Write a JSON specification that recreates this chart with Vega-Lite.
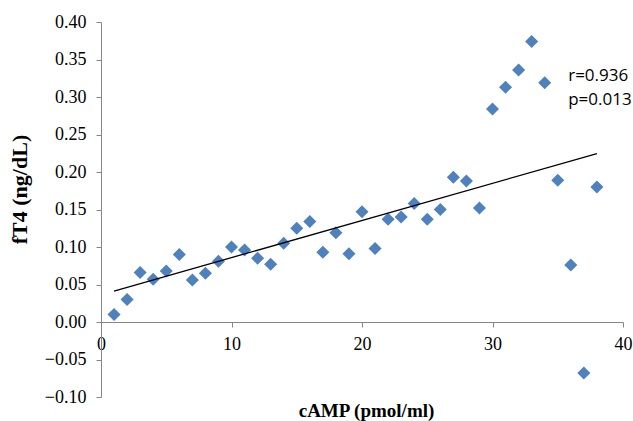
{
  "$schema": "https://vega.github.io/schema/vega-lite/v6.json",
  "width": 522,
  "height": 375,
  "autosize": {"type": "none"},
  "padding": {"left": 101, "top": 22, "right": 10, "bottom": 24},
  "background": "white",
  "config": {
    "view": {"stroke": null},
    "axis": {"labelOverlap": false, "labelFlush": false, "grid": false},
    "axisY": {"labelOverlap": false},
    "axisQuantitative": {"labelOverlap": false}
  },
  "datasets": {
    "points": [
      {"cAMP": 1, "fT4": 0.010},
      {"cAMP": 2, "fT4": 0.030},
      {"cAMP": 3, "fT4": 0.066},
      {"cAMP": 4, "fT4": 0.057},
      {"cAMP": 5, "fT4": 0.068},
      {"cAMP": 6, "fT4": 0.090},
      {"cAMP": 7, "fT4": 0.056},
      {"cAMP": 8, "fT4": 0.065},
      {"cAMP": 9, "fT4": 0.081},
      {"cAMP": 10, "fT4": 0.100},
      {"cAMP": 11, "fT4": 0.096},
      {"cAMP": 12, "fT4": 0.085},
      {"cAMP": 13, "fT4": 0.077},
      {"cAMP": 14, "fT4": 0.105},
      {"cAMP": 15, "fT4": 0.125},
      {"cAMP": 16, "fT4": 0.134},
      {"cAMP": 17, "fT4": 0.093},
      {"cAMP": 18, "fT4": 0.119},
      {"cAMP": 19, "fT4": 0.091},
      {"cAMP": 20, "fT4": 0.147},
      {"cAMP": 21, "fT4": 0.098},
      {"cAMP": 22, "fT4": 0.137},
      {"cAMP": 23, "fT4": 0.140},
      {"cAMP": 24, "fT4": 0.158},
      {"cAMP": 25, "fT4": 0.137},
      {"cAMP": 26, "fT4": 0.150},
      {"cAMP": 27, "fT4": 0.193},
      {"cAMP": 28, "fT4": 0.188},
      {"cAMP": 29, "fT4": 0.152},
      {"cAMP": 30, "fT4": 0.284},
      {"cAMP": 31, "fT4": 0.313},
      {"cAMP": 32, "fT4": 0.336},
      {"cAMP": 33, "fT4": 0.374},
      {"cAMP": 34, "fT4": 0.319},
      {"cAMP": 35, "fT4": 0.189},
      {"cAMP": 36, "fT4": 0.076},
      {"cAMP": 37, "fT4": -0.068},
      {"cAMP": 38, "fT4": 0.180}
    ],
    "fit": [
      {"cAMP": 1, "fT4": 0.0413},
      {"cAMP": 38, "fT4": 0.2245}
    ],
    "notes": [
      {"cAMP": 35.8, "fT4": 0.3276, "label": "r=0.936"},
      {"cAMP": 35.8, "fT4": 0.2956, "label": "p=0.013"}
    ]
  },
  "encoding": {
    "x": {
      "field": "cAMP", "type": "quantitative",
      "scale": {"domain": [0, 40], "nice": false, "zero": false},
      "axis": {
        "title": "cAMP (pmol/ml)",
        "values": [0, 10, 20, 30, 40],
        "offset": -75,
        "grid": false,
        "domainColor": "#868686",
        "tickColor": "#868686",
        "tickSize": 5,
        "labelFont": "Liberation Serif",
        "labelFontSize": 18,
        "labelColor": "black",
        "labelPadding": 8,
        "labelFlush": false,
        "labelOverlap": false,
        "titleFont": "Liberation Serif",
        "titleFontSize": 19,
        "titleFontWeight": "bold",
        "titleColor": "black",
        "titlePadding": 48,
        "titleX": 265
      }
    },
    "y": {
      "field": "fT4", "type": "quantitative",
      "scale": {"domain": [-0.1, 0.4], "nice": false, "zero": false},
      "axis": {
        "title": "fT4 (ng/dL)",
        "values": [-0.1, -0.05, 0, 0.05, 0.1, 0.15, 0.2, 0.25, 0.3, 0.35, 0.4],
        "format": ".2f",
        "grid": false,
        "domainColor": "#868686",
        "tickColor": "#868686",
        "tickSize": 5,
        "labelFont": "Liberation Serif",
        "labelFontSize": 18,
        "labelColor": "black",
        "labelPadding": 10,
        "labelFlush": false,
        "labelOverlap": false,
        "titleFont": "Liberation Serif",
        "titleFontSize": 22,
        "titleFontWeight": "bold",
        "titleColor": "black",
        "titleX": -70,
        "titleY": 167
      }
    }
  },
  "layer": [
    {
      "data": {"name": "points"},
      "mark": {"type": "point", "shape": "diamond", "filled": true, "color": "#4F81BD", "opacity": 1, "size": 170}
    },
    {
      "data": {"name": "fit"},
      "mark": {"type": "line", "color": "black", "strokeWidth": 1.3},
      "encoding": {}
    },
    {
      "data": {"name": "notes"},
      "mark": {"type": "text", "align": "left", "baseline": "middle", "font": "Open Sans", "fontSize": 17, "color": "black"},
      "encoding": {
        "text": {"field": "label"}
      }
    }
  ]
}
